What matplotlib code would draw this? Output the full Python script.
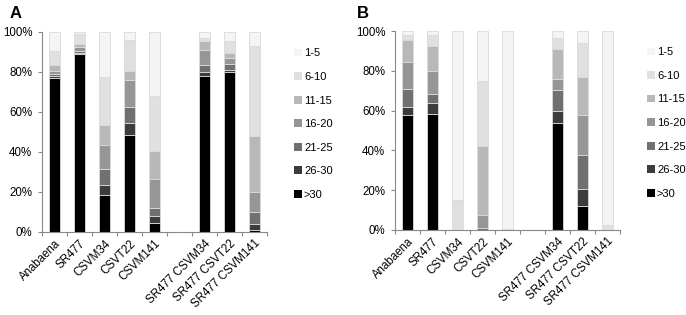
import matplotlib
matplotlib.use("Agg")
import matplotlib.pyplot as plt
import matplotlib.transforms as mtransforms
import numpy as np

plt.rcParams['font.family'] = ['Liberation Sans', 'DejaVu Sans']

categories = ["Anabaena", "SR477", "CSVM34", "CSVT22", "CSVM141", "",
              "SR477 CSVM34", "SR477 CSVT22", "SR477 CSVM141"]
groups = [">30", "26-30", "21-25", "16-20", "11-15", "6-10", "1-5"]
colors = ["#000000", "#3c3c3c", "#707070", "#969696", "#b8b8b8", "#e0e0e0", "#f4f4f4"]

# values per category, order: >30, 26-30, 21-25, 16-20, 11-15, 6-10, 1-5 (percent)
panel_a = {
    "Anabaena":      [77, 1, 1, 1.5, 3, 7, 9.5],
    "SR477":         [89, 0.5, 1, 2, 1.5, 5, 1],
    "CSVM34":        [18.7, 5, 8, 12, 10, 24, 22.3],
    "CSVT22":        [48.5, 6.2, 8, 13.3, 4.3, 15.9, 3.8],
    "CSVM141":       [4.7, 3.2, 4.3, 14.2, 14.1, 27.5, 32],
    "":              [0, 0, 0, 0, 0, 0, 0],
    "SR477 CSVM34":  [78, 2.2, 3.4, 7.5, 4.2, 1.7, 3],
    "SR477 CSVT22":  [80, 1, 3, 3, 2.5, 6, 4.5],
    "SR477 CSVM141": [1, 3, 6.2, 10, 28, 45, 6.8],
}
panel_b = {
    "Anabaena":      [57.7, 4.2, 9.2, 13.3, 10.9, 2.9, 1.8],
    "SR477":         [58.2, 5.7, 4.3, 11.6, 12.7, 5.3, 2.2],
    "CSVM34":        [0, 0, 0, 0, 0, 15, 85],
    "CSVT22":        [0, 0, 1, 6.5, 34.5, 33, 25],
    "CSVM141":       [0, 0, 0, 0, 0, 0.5, 99.5],
    "":              [0, 0, 0, 0, 0, 0, 0],
    "SR477 CSVM34":  [54, 6, 10.2, 5.9, 15.1, 5.4, 3.4],
    "SR477 CSVT22":  [12.3, 8.4, 16.9, 20.2, 18.9, 17.4, 5.9],
    "SR477 CSVM141": [0, 0, 0, 0, 0, 2.7, 97.3],
}

W, H = 686, 315
fig = plt.figure(figsize=(W / 100, H / 100), dpi=100)


def draw(ax, data):
    x = np.arange(len(categories))
    vals = np.array([data[c] for c in categories])
    bottom = np.zeros(len(categories))
    mask = np.array([c != "" for c in categories])
    handles = []
    for i, g in enumerate(groups):
        b = ax.bar(x[mask], vals[mask, i], bottom=bottom[mask], width=0.45,
                   color=colors[i], edgecolor="#dadada", linewidth=0.6, label=g)
        handles.append(b)
        bottom += vals[:, i]
    ax.set_xlim(-0.5, len(categories) - 0.5)
    ax.set_ylim(0, 100)
    ax.set_yticks([0, 20, 40, 60, 80, 100])
    ax.set_yticklabels([f"{v}%" for v in [0, 20, 40, 60, 80, 100]], fontsize=8.3)
    ax.set_xticks(x)
    ax.set_xticklabels(categories, rotation=45, ha="right", rotation_mode="anchor",
                       fontsize=8.3)
    offset = mtransforms.ScaledTranslation(4 / 100, -1 / 100, fig.dpi_scale_trans)
    for lab in ax.get_xticklabels():
        lab.set_transform(lab.get_transform() + offset)
    ax.tick_params(axis="x", which="major", length=0, pad=4)
    ax.set_xticks(np.arange(-0.5, len(categories)), minor=True)
    ax.tick_params(axis="x", which="minor", length=3, color="#888888", width=0.8)
    ax.tick_params(axis="y", length=3, color="#888888", width=0.8, pad=4)
    for s in ["top", "right"]:
        ax.spines[s].set_visible(False)
    for s in ["left", "bottom"]:
        ax.spines[s].set_color("#888888")
        ax.spines[s].set_linewidth(0.8)
    leg = ax.legend(handles[::-1], groups[::-1], loc="upper left",
                    bbox_to_anchor=(1.10, 0.94), frameon=False, fontsize=8,
                    handlelength=0.7, handleheight=0.7, handletextpad=0.2,
                    labelspacing=1.22, borderaxespad=0)
    for p in leg.get_patches():
        p.set_edgecolor("none")
    return ax


axA = fig.add_axes([42 / W, (H - 232) / H, 225 / W, 200 / H])
draw(axA, panel_a)
axB = fig.add_axes([395 / W, (H - 230) / H, 225 / W, 199 / H])
draw(axB, panel_b)

fig.text(10 / W, 1 - 14 / H, "A", fontsize=12, fontweight="bold", va="center", ha="left")
fig.text(357 / W, 1 - 14 / H, "B", fontsize=12, fontweight="bold", va="center", ha="left")

fig.savefig("out.png", dpi=100)
